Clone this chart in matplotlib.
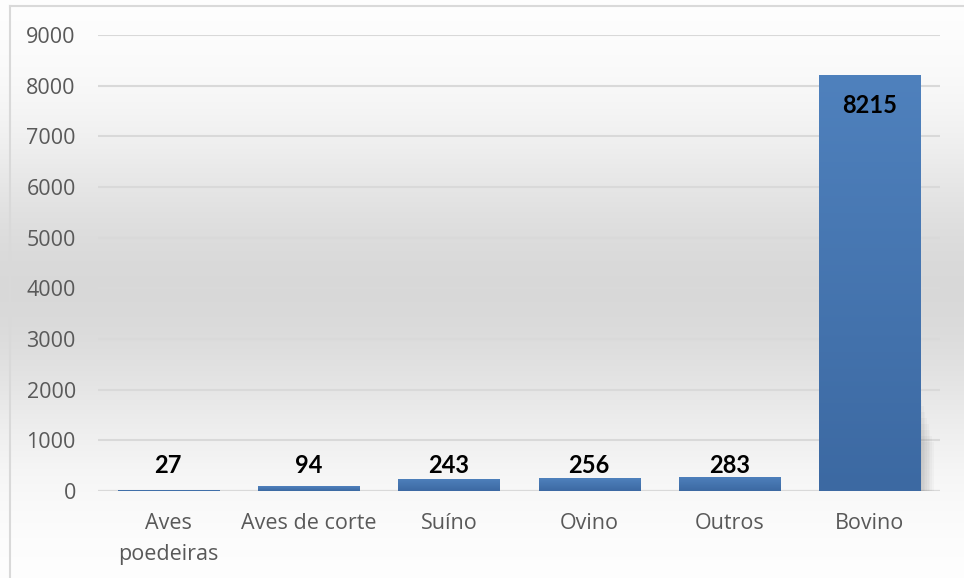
import numpy as np
import matplotlib.pyplot as plt
from matplotlib.patches import Rectangle
from matplotlib.colors import LinearSegmentedColormap

categories = ["Aves\npoedeiras", "Aves de corte", "Suíno", "Ovino", "Outros", "Bovino"]
values = [27, 94, 243, 256, 283, 8215]
yticks = [0, 1000, 2000, 3000, 4000, 5000, 6000, 7000, 8000, 9000]

W, H = 964, 578
fig = plt.figure(figsize=(W / 100, H / 100), dpi=100)

# background gradient (white -> gray -> white)
t = np.linspace(0, 1, H).reshape(-1, 1)
shade = 1 - 0.15 * np.exp(-((t - 0.5) / 0.27) ** 2)
img = np.repeat(shade, W, axis=1)
img = np.dstack([img, img, img])
fig.figimage(img, xo=0, yo=0, origin="upper", zorder=-10)

# chart frame (left and top edges visible)
fig.add_artist(plt.Line2D([10 / W, 10 / W], [0, 1 - 6 / H], color="#d9d9d9", lw=1.5))
fig.add_artist(plt.Line2D([10 / W, 1], [1 - 6 / H, 1 - 6 / H], color="#d9d9d9", lw=1.5))

ax = fig.add_axes([98 / W, 1 - 491 / H, (940 - 98) / W, (491 - 35) / H])
ax.patch.set_alpha(0)
x = np.arange(len(categories))
ax.set_xlim(-0.5, len(categories) - 0.5)
ax.set_ylim(0, 9000)

bars = ax.bar(x, values, width=0.72, color="#4a79b4", zorder=3)

# vertical gradient inside bars
grad = np.linspace(0, 1, 256).reshape(-1, 1)
cmap = LinearSegmentedColormap.from_list("b", ["#3c69a2", "#4f81bd"])
for b in bars:
    im = ax.imshow(grad, cmap=cmap, aspect="auto", origin="lower",
                   extent=[b.get_x(), b.get_x() + b.get_width(), 0, b.get_height()],
                   zorder=4)
    im.set_clip_path(b)

# soft shadow on the tall bar
big = bars[-1]
for k in range(8):
    ax.add_patch(Rectangle((big.get_x() + big.get_width(), 0), 0.012 * (k + 1), 1800 - k * 120,
                           color="black", alpha=0.025, lw=0, zorder=2))

for val, xi in zip(values, x):
    ypos = val - 600 if val > 5000 else 500
    ax.text(xi, ypos, str(val), ha="center", va="center", fontsize=17,
            fontweight="bold", color="black", family="Lato", zorder=5)

ax.set_yticks(yticks)
ax.set_yticklabels([str(v) for v in yticks], fontsize=15.5, color="#595959", family="Open Sans")
ax.set_xticks(x)
ax.set_xticklabels(categories, fontsize=15.5, color="#595959", family="Open Sans", linespacing=1.6)
ax.tick_params(axis="y", length=0, pad=16)
ax.tick_params(axis="x", length=0, pad=16)
ax.grid(axis="y", color="#d9d9d9", lw=1.5, zorder=0)
for s in ax.spines.values():
    s.set_visible(False)
ax.axhline(0, color="#d9d9d9", lw=1.5, zorder=1)

fig.savefig("out.png", dpi=100)
